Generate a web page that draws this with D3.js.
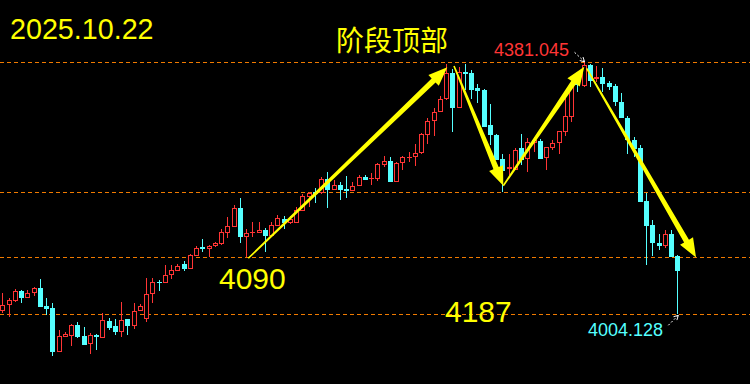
<!DOCTYPE html>
<html><head><meta charset="utf-8">
<script src="https://cdn.jsdelivr.net/npm/d3@7"></script>
<style>html,body{margin:0;padding:0;background:#000;overflow:hidden}svg{display:block}</style>
</head><body><svg id="c" width="750" height="384"></svg>
<script>
// candle index (categories)
const bars = d3.range(109);
const open = [4009.5,4018.5,4024.5,4039.0,4028.9,4036.4,4043.4,4016.5,4013.5,3948.2,
3970.6,3972.1,3988.1,3971.7,3959.7,3973.2,3969.1,3994.1,3986.6,3978.1,
3996.6,3987.1,4009.5,3997.5,4034.0,4052.9,4050.5,4062.4,4069.3,4079.3,
4072.3,4091.8,4104.8,4102.3,4106.3,4108.8,4126.2,4135.2,4162.7,4119.7,
4125.3,4125.3,4130.2,4121.7,4136.6,4146.6,4140.2,4141.1,4159.1,4180.0,
4187.5,4185.1,4206.0,4190.0,4197.5,4191.5,4189.0,4196.5,4209.0,4207.5,
4206.9,4227.9,4233.4,4202.4,4229.9,4238.9,4238.9,4244.9,4271.8,4292.8,
4307.1,4325.7,4364.6,4313.1,4366.1,4364.6,4342.6,4339.6,4287.2,4272.3,
4236.4,4221.0,4219.9,4252.4,4236.8,4260.8,4263.3,4238.3,4253.3,4259.9,
4277.2,4299.7,4349.0,4346.0,4377.0,4355.6,4359.0,4350.1,4345.6,4322.1,
4298.2,4264.8,4252.4,4173.6,4137.7,4110.3,4106.7,4124.2,4091.3];
const high = [4036.0,4028.5,4041.9,4040.5,4040.0,4044.5,4056.9,4028.5,4020.6,3980.6,
3977.6,3989.6,3993.0,3985.6,3976.1,3975.1,4005.6,3998.6,3996.6,4022.5,
3997.1,4020.6,4019.5,4058.0,4058.0,4055.4,4077.9,4077.9,4078.9,4083.8,
4093.9,4106.3,4116.7,4107.8,4112.7,4131.7,4149.2,4167.1,4178.5,4131.2,
4142.6,4142.2,4133.6,4141.7,4152.6,4151.1,4151.1,4165.1,4184.0,4187.5,
4192.6,4209.9,4216.5,4205.0,4202.4,4211.0,4202.4,4212.5,4212.5,4215.0,
4230.9,4240.9,4238.9,4231.9,4240.9,4246.4,4258.8,4275.7,4297.3,4312.2,
4330.6,4378.5,4370.6,4374.5,4378.5,4369.5,4348.6,4341.1,4318.7,4273.8,
4243.4,4243.9,4252.4,4273.8,4267.4,4269.7,4266.8,4254.3,4264.8,4279.0,
4327.2,4351.1,4352.0,4381.045,4378.9,4375.0,4372.0,4353.1,4348.1,4334.7,
4300.7,4269.3,4257.3,4185.1,4145.2,4124.2,4130.2,4130.2,4092.8];
const low = [4006.1,4000.5,4022.5,4020.6,4028.5,4031.5,4015.0,4003.1,3942.2,3947.7,
3970.2,3957.1,3968.7,3958.2,3944.7,3950.7,3968.7,3980.6,3973.2,3969.7,
3973.2,3982.6,4009.0,3993.0,4021.5,4039.4,4050.2,4056.9,4068.9,4068.9,
4071.9,4091.3,4097.3,4089.4,4105.5,4108.5,4118.7,4134.7,4110.3,4089.4,
4120.2,4125.0,4096.8,4121.2,4136.2,4131.7,4139.9,4140.6,4158.6,4165.1,
4171.0,4184.7,4163.6,4189.6,4175.1,4177.6,4188.6,4196.0,4204.5,4197.5,
4203.9,4224.0,4202.0,4202.0,4219.9,4232.4,4225.9,4244.6,4258.8,4271.2,
4306.7,4325.4,4277.2,4312.7,4339.6,4325.7,4319.7,4284.2,4257.3,4234.4,
4187.5,4212.5,4219.4,4227.4,4217.4,4247.3,4236.8,4219.9,4249.9,4243.9,
4271.2,4291.3,4336.2,4343.6,4344.5,4351.1,4337.1,4339.6,4316.1,4297.0,
4243.9,4239.4,4172.0,4077.9,4091.3,4100.3,4102.8,4090.0,4004.128];
const close = [4018.0,4025.5,4039.0,4028.9,4036.0,4043.0,4015.5,4012.5,3948.2,3971.7,
3974.6,3988.1,3970.6,3958.6,3973.2,3969.7,3995.6,3983.6,3978.1,3995.6,
3987.1,4009.0,4016.1,4034.0,4052.0,4050.5,4062.4,4069.9,4075.9,4071.4,
4092.4,4102.8,4101.8,4106.7,4110.3,4127.2,4135.7,4162.7,4119.3,4125.3,
4127.7,4130.2,4121.7,4137.2,4147.7,4140.2,4146.6,4160.1,4181.1,4185.1,
4184.0,4206.0,4190.0,4197.5,4190.0,4189.0,4196.5,4209.0,4205.0,4208.4,
4228.5,4233.0,4202.4,4229.9,4238.9,4239.8,4244.9,4273.8,4293.2,4306.7,
4325.7,4364.6,4313.1,4366.1,4363.5,4339.6,4338.1,4284.7,4272.3,4234.9,
4218.4,4224.4,4249.9,4234.9,4261.8,4264.8,4237.1,4253.9,4259.9,4278.3,
4301.2,4346.0,4346.6,4377.0,4353.5,4359.0,4349.0,4344.5,4322.1,4297.3,
4264.8,4251.4,4172.5,4136.2,4110.3,4106.3,4124.2,4090.3,4068.9];

// horizontal dashed levels
const levels = [4381.045, 4187, 4090, 4004.128];
// trend arrows: [startIndex, startPrice, endIndex, endPrice]
const arrowStartIdx = [39.36, 72.27, 80.16, 93.5];
const arrowStartPx  = [4087.9, 4375.5, 4196.5, 4372.1];
const arrowEndIdx   = [71.2, 80.16, 93.12, 111.0];
const arrowEndPx    = [4373.6, 4196.5, 4374.5, 4089.1];
// text annotations
const dateLabel = "2025.10.22";
const titleLabel = "阶段顶部";
const hiLabel = "4381.045", loLabel = "4004.128";
const levelLabels = ["4090", "4187"];
const hiIdx = 93, loIdx = 108;

const W = 750, H = 384;
const RED = "#ff3535", CYAN = "#55ffff", YEL = "#ffff00", ORG = "#f07a00";
const svg = d3.select("#c");
svg.append("rect").attr("width", W).attr("height", H).attr("fill", "#000");

const x = d3.scaleLinear().domain([0, 108]).range([2.3, 677.3]);
const y = d3.scaleLinear().domain([4004.128, 4381.045]).range([314.3, 62.3]);

// dashed levels
svg.append("g").selectAll("line").data(levels).join("line")
  .attr("x1", 0).attr("x2", W)
  .attr("y1", d => Math.round(y(d)) + 0.5).attr("y2", d => Math.round(y(d)) + 0.5)
  .attr("stroke", ORG).attr("stroke-width", 1).attr("stroke-dasharray", "4,3");

// candles
const g = svg.append("g").attr("shape-rendering", "crispEdges");
bars.forEach(i => {
  const o = open[i], c = close[i], h = high[i], l = low[i];
  const up = c > o;
  const col = up ? RED : CYAN;
  const xc = Math.round(x(i));
  const yt = Math.round(y(Math.max(o, c))), yb = Math.round(y(Math.min(o, c)));
  const yh = Math.round(y(h)), yl = Math.round(y(l));
  if (up) {
    g.append("line").attr("x1", xc + 0.5).attr("x2", xc + 0.5).attr("y1", yh).attr("y2", yt).attr("stroke", col);
    g.append("line").attr("x1", xc + 0.5).attr("x2", xc + 0.5).attr("y1", yb).attr("y2", yl).attr("stroke", col);
    if (yb - yt >= 2) {
      g.append("rect").attr("x", xc - 1.5).attr("y", yt + 0.5).attr("width", 4).attr("height", yb - yt - 1)
        .attr("fill", "#000").attr("stroke", col).attr("stroke-width", 1);
    } else {
      g.append("rect").attr("x", xc - 2).attr("y", yt).attr("width", 5).attr("height", Math.max(1, yb - yt)).attr("fill", col);
    }
  } else {
    g.append("line").attr("x1", xc + 0.5).attr("x2", xc + 0.5).attr("y1", yh).attr("y2", yl).attr("stroke", col);
    g.append("rect").attr("x", xc - 2).attr("y", yt).attr("width", 5).attr("height", Math.max(1, yb - yt)).attr("fill", col);
  }
});

// tapered yellow arrows
arrowStartIdx.forEach((_, k) => {
  const x0 = x(arrowStartIdx[k]), y0 = y(arrowStartPx[k]);
  const x1 = x(arrowEndIdx[k]), y1 = y(arrowEndPx[k]);
  const dx = x1 - x0, dy = y1 - y0, len = Math.hypot(dx, dy);
  const ux = dx / len, uy = dy / len, nx = -uy, ny = ux;
  const HL = 19, HW = 7.5, w0 = 0.8, w1 = 2.8;
  const bx = x1 - ux * HL, by = y1 - uy * HL;
  const pts = [
    [x0 + nx * w0, y0 + ny * w0], [bx + nx * w1, by + ny * w1], [bx + nx * HW, by + ny * HW],
    [x1, y1], [bx - nx * HW, by - ny * HW], [bx - nx * w1, by - ny * w1], [x0 - nx * w0, y0 - ny * w0]
  ];
  svg.append("path").attr("d", d3.line()(pts) + "Z").attr("fill", YEL);
});

// small white dashed pointer arrows
function pointer(tx, ty, fx, fy) {
  svg.append("line").attr("x1", fx).attr("y1", fy).attr("x2", tx).attr("y2", ty)
    .attr("stroke", "#fff").attr("stroke-width", 1).attr("stroke-dasharray", "2,2");
  const a = Math.atan2(ty - fy, tx - fx), L = 5;
  [0.5, -0.5].forEach(s => {
    svg.append("line").attr("x1", tx).attr("y1", ty)
      .attr("x2", tx - L * Math.cos(a + s)).attr("y2", ty - L * Math.sin(a + s))
      .attr("stroke", "#fff").attr("stroke-width", 1);
  });
}
pointer(x(hiIdx) + 1, y(high[hiIdx]) - 0.5, x(hiIdx) - 9, y(high[hiIdx]) - 10);
pointer(x(loIdx) + 1, y(low[loIdx]) + 1, x(loIdx) - 9, y(low[loIdx]) + 11);

// texts
const FONT = "'Liberation Sans', Arial, sans-serif";
svg.append("text").attr("x", 10).attr("y", 39).attr("fill", YEL)
  .attr("font-family", FONT).attr("font-size", 28.7).text(dateLabel);
svg.append("text").attr("x", 336).attr("y", 51).attr("fill", YEL)
  .attr("font-family", "'Noto Sans CJK SC', sans-serif").attr("font-size", 28).text(titleLabel);
svg.append("text").attr("x", 494).attr("y", 55.5).attr("fill", RED)
  .attr("font-family", FONT).attr("font-size", 18).text(hiLabel);
svg.append("text").attr("x", 588).attr("y", 336).attr("fill", CYAN)
  .attr("font-family", FONT).attr("font-size", 18).text(loLabel);
svg.append("text").attr("x", 219).attr("y", 288.5).attr("fill", YEL)
  .attr("font-family", FONT).attr("font-size", 30).text(levelLabels[0]);
svg.append("text").attr("x", 445).attr("y", 322).attr("fill", YEL)
  .attr("font-family", FONT).attr("font-size", 30).text(levelLabels[1]);
</script></body></html>
